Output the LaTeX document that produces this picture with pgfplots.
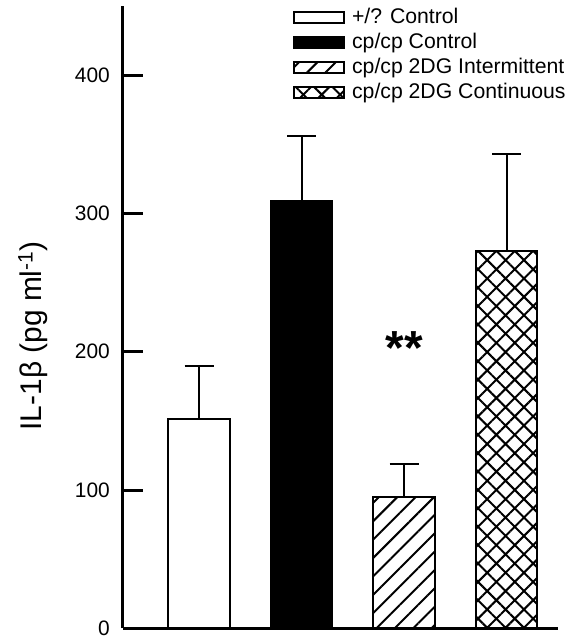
\documentclass[border=0pt]{standalone}
\usepackage{fontspec}
\setmainfont{Liberation Sans}
\usepackage{pgfplots}
\pgfplotsset{compat=1.18}
\usetikzlibrary{patterns.meta}
\begin{document}
\begin{tikzpicture}
\path[use as bounding box] (-122.7bp,-8.7bp) rectangle (447.3bp,628.3bp);
\begin{axis}[at={(0,0)}, anchor=south west, scale only axis,
  width=435.3bp, height=622.3bp,
  xmin=0.256, xmax=4.5, ymin=0, ymax=450,
  axis lines*=left, axis line style={line width=3bp},
  xtick=\empty, ytick={0,100,200,300,400},
  tick align=inside, major tick length=20bp,
  ytick style={line width=3bp, black},
  /pgf/number format/assume math mode=true,
  yticklabel style={font=\fontsize{21}{21}\selectfont, inner sep=0pt, xshift=-12.7bp},
  ylabel={IL-1β (pg ml\textsuperscript{-1})},
  ylabel style={at={(axis description cs:-0.206,0.47)}, anchor=center, font=\fontsize{30}{30}\selectfont},
  ybar, bar shift=0pt, bar width=0.6,
  clip=false,
  legend style={at={(axis description cs:0.391,1.0)}, anchor=north west, draw=none, fill=none,
    font=\fontsize{21.3}{21.3}\selectfont, inner sep=0pt, row sep=2bp, column sep=5bp,
    nodes={inner sep=2bp, text height=15bp, text depth=4bp}},
  legend cell align=left,
  legend image code/.code={\draw[#1, line width=2bp] (0bp,-5.5bp) rectangle (50bp,5.5bp);},
  error bars/y dir=plus, error bars/y explicit,
  error bars/error bar style={line width=2bp, black},
  error bars/error mark options={rotate=90, mark size=14.5bp, line width=2bp, black},
]
\addplot[draw=black, fill=white, line width=2bp] coordinates {(1,151) +- (0,38.7)};
\addlegendentry{+/? Control}
\addplot[draw=black, fill=black, line width=2bp] coordinates {(2,309.2) +- (0,46.8)};
\addlegendentry{cp/cp Control}
\addplot[draw=black, line width=2bp, pattern={Lines[angle=45, distance=13bp, line width=2bp]}] coordinates {(3,95) +- (0,23.9)};
\addlegendentry{cp/cp 2DG Intermittent}
\addplot[draw=black, line width=2bp, pattern={Hatch[angle=45, distance=13bp, line width=2bp]}] coordinates {(4,272.7) +- (0,70)};
\addlegendentry{cp/cp 2DG Continuous}
\node[font=\fontsize{48}{48}\selectfont\bfseries, anchor=base] at (axis cs:3,191) {**};
\end{axis}
\end{tikzpicture}
\end{document}
